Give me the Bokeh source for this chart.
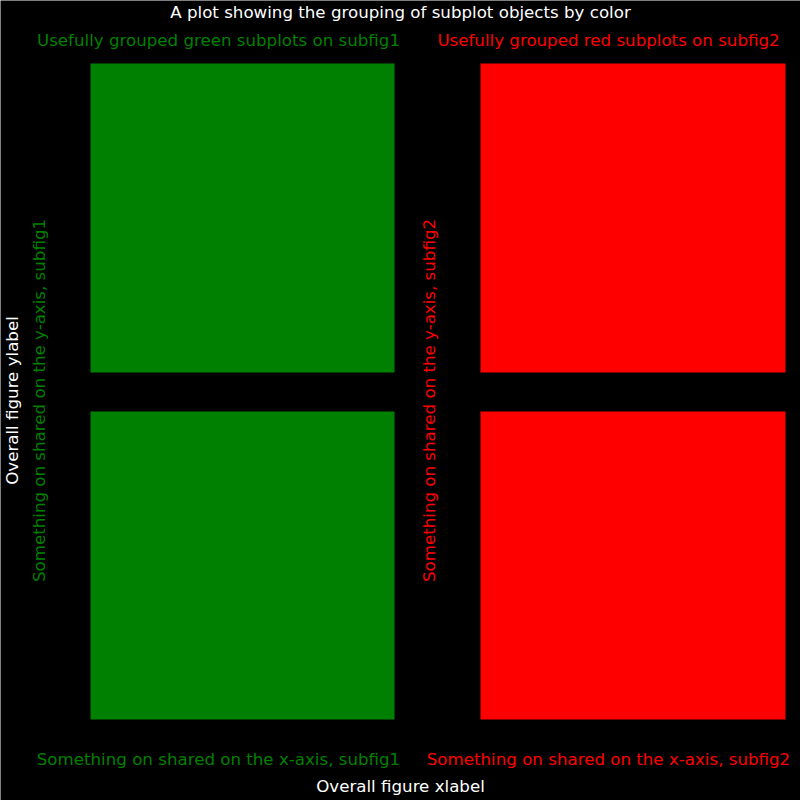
from bokeh.plotting import figure
from bokeh.models import Range1d
from bokeh.core.properties import value
from bokeh.embed import file_html
from bokeh.resources import INLINE

# Subfigure groups
subfig_names = ["subfig1", "subfig2"]
subfig_colors = ["#008000", "#ff0000"]
subfig_titles = ["Usefully grouped green subplots on subfig1",
                 "Usefully grouped red subplots on subfig2"]
subfig_xlabels = ["Something on shared on the x-axis, subfig1",
                  "Something on shared on the x-axis, subfig2"]
subfig_ylabels = ["Something on shared on the y-axis, subfig1",
                  "Something on shared on the y-axis, subfig2"]
suptitle = "A plot showing the grouping of subplot objects by color"
sup_xlabel = "Overall figure xlabel"
sup_ylabel = "Overall figure ylabel"

# Layout (pixels)
W, H = 800, 800
panel_left = [90, 480]
panel_right = [394, 785]
row_top = [63, 411]
row_bottom = [372, 719]
sub_center_x = [218, 608]
sub_ylabel_x = [39, 429]
FONT = value("DejaVu Sans")
FS = "16.67px"

p = figure(width=W, height=H, x_range=Range1d(0, W), y_range=Range1d(H, 0),
           output_backend="svg", toolbar_location=None, min_border=0,
           background_fill_color="black", border_fill_color="black",
           outline_line_color=None)
p.axis.visible = False
p.grid.visible = False

# panels
ql, qr, qt, qb, qc = [], [], [], [], []
for i in range(2):
    for j in range(2):
        ql.append(panel_left[i]); qr.append(panel_right[i])
        qt.append(row_top[j]); qb.append(row_bottom[j])
        qc.append(subfig_colors[i])
p.quad(left=ql, right=qr, top=qt, bottom=qb, fill_color=qc, line_color=None)

def txt(x, y, s, color, angle=0.0):
    p.text(x=[x], y=[y], text=[s], text_color=color, text_font=FONT,
           text_font_size=FS, text_align="center", text_baseline="middle",
           angle=angle)

txt(400, 12, suptitle, "white")
txt(400, 786, sup_xlabel, "white")
txt(12, 400, sup_ylabel, "white", angle=1.5708)
for i in range(2):
    txt(sub_center_x[i], 40, subfig_titles[i], subfig_colors[i])
    txt(sub_center_x[i], 759, subfig_xlabels[i], subfig_colors[i])
    txt(sub_ylabel_x[i], 400, subfig_ylabels[i], subfig_colors[i], angle=1.5708)

open("out.html", "w").write(file_html(p, INLINE))
